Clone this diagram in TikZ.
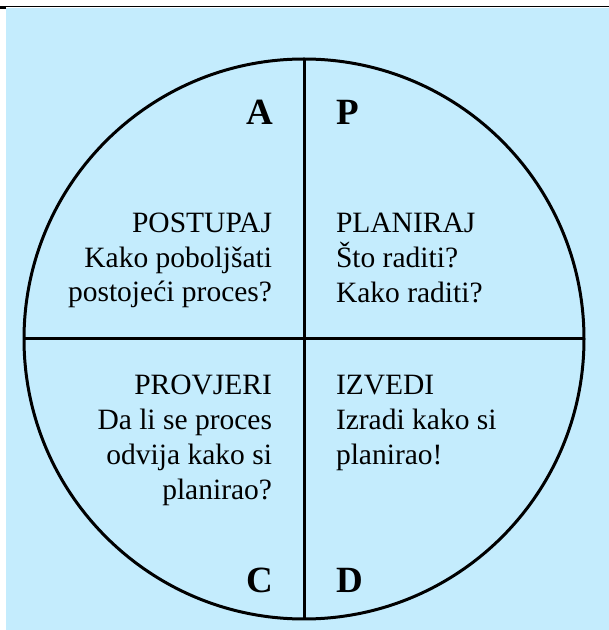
\documentclass[tikz,border=0pt]{standalone}
\usepackage{fontspec}
\setmainfont{Liberation Serif}
\definecolor{bgblue}{RGB}{196,236,253}
\begin{document}
\begin{tikzpicture}[x=1pt,y=1pt,
  body/.style={inner sep=0pt,outer sep=0pt,font=\fontsize{29.5}{35}\selectfont},
  bodyL/.style={body,anchor=base east},
  bodyR/.style={body,anchor=base west},
  letter/.style={inner sep=0pt,outer sep=0pt,font=\fontsize{37}{40}\selectfont\bfseries},
  ring/.style={line width=3pt,black}]
\useasboundingbox (0,0) rectangle (609,630);
\fill[bgblue] (6,0) rectangle (609,622);
\draw[line width=1.5pt] (0,623.3) -- (609,623.3);
\fill[black] (0,620.5) rectangle (6,623);
\coordinate (c) at (304,291);
\draw[ring] (c) circle[radius=280];
\coordinate (top) at (304,571);
\coordinate (bot) at (304,11);
\coordinate (lft) at (24,291);
\coordinate (rgt) at (584,291);
\draw[ring] (top) -- (bot);
\draw[ring] (lft) -- (rgt);
% letters
\node[letter,anchor=base east] (A) at (273,505) {A};
\node[letter,anchor=base west] (P) at (336,505) {P};
\node[letter,anchor=base east] (C) at (273,37) {C};
\node[letter,anchor=base west] (D) at (336,37) {D};
% A quadrant
\node[bodyL] (a1) at (272,397) {POSTUPAJ};
\node[bodyL] (a2) at (272,362) {Kako poboljšati};
\node[bodyL] (a3) at (272,328) {postojeći proces?};
% P quadrant
\node[bodyR] (p1) at (336,397) {PLANIRAJ};
\node[bodyR] (p2) at (336,362) {Što raditi?};
\node[bodyR] (p3) at (336,327) {Kako raditi?};
% C quadrant
\node[bodyL] (c1) at (272,235) {PROVJERI};
\node[bodyL] (c2) at (272,200) {Da li se proces};
\node[bodyL] (c3) at (272,165) {odvija kako si};
\node[bodyL] (c4) at (272,130) {planirao?};
% D quadrant
\node[bodyR] (d1) at (336,235) {IZVEDI};
\node[bodyR] (d2) at (336,200) {Izradi kako si};
\node[bodyR] (d3) at (336,165) {planirao!};
\end{tikzpicture}
\end{document}
